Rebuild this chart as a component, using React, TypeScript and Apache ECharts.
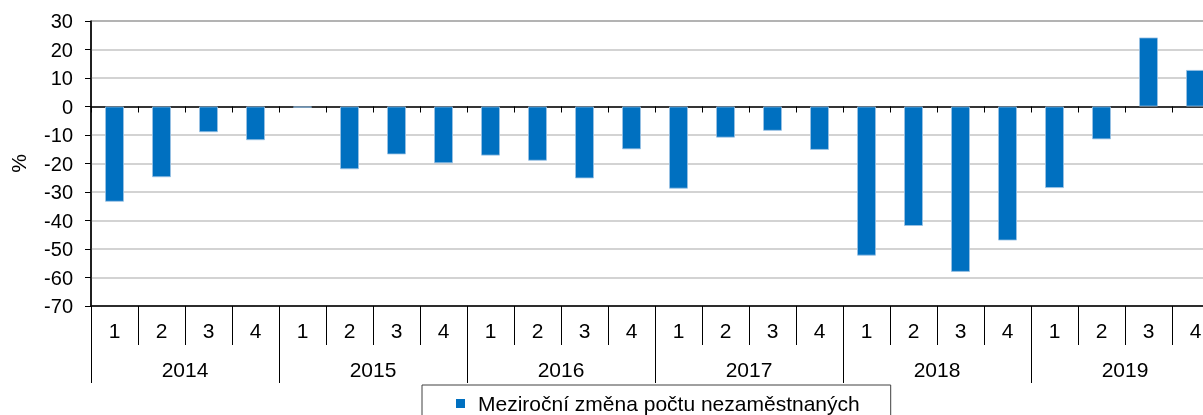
import React, { useEffect, useRef } from "react";
import * as echarts from "echarts";

const quarters = [
  "1", "2", "3", "4", "1", "2", "3", "4", "1", "2", "3", "4",
  "1", "2", "3", "4", "1", "2", "3", "4", "1", "2", "3", "4",
];
const years = ["2014", "2015", "2016", "2017", "2018", "2019"];
const values = [
  -33.4, -24.8, -9.0, -11.8,
  -0.4, -22.0, -16.8, -19.9,
  -17.2, -19.0, -25.2, -15.0,
  -28.8, -10.9, -8.5, -15.2,
  -52.3, -41.9, -58.0, -47.0,
  -28.6, -11.5, 24.2, 12.8,
];
const seriesName = "Meziroční změna počtu nezaměstnaných";
const yTicks = { min: -70, max: 30, interval: 10 };

const FONT = "'Liberation Sans', Arial, Helvetica, sans-serif";

export default function App() {
  const ref = useRef<HTMLDivElement>(null);
  useEffect(() => {
    if (!ref.current) return;
    const chart = echarts.init(ref.current, undefined, { renderer: "svg" });
    chart.setOption({
      animation: false,
      textStyle: { fontFamily: FONT, color: "#000" },
      grid: {
        left: 91,
        top: 21,
        right: 1,
        bottom: 109,
        show: true,
        borderColor: "#000",
        borderWidth: 1,
      },
      legend: {
        data: [seriesName],
        left: 422,
        top: 385,
        padding: [8, 31, 30, 34],
        borderColor: "#404040",
        borderWidth: 1,
        icon: "rect",
        itemWidth: 9,
        itemHeight: 9,
        itemStyle: { borderWidth: 0 },
        textStyle: {
          fontFamily: FONT,
          fontSize: 21,
          color: "#000",
          padding: [0, 0, 0, 8],
        },
      },
      xAxis: [
        {
          type: "category",
          data: quarters,
          position: "bottom",
          axisLine: { show: true, onZero: true, lineStyle: { color: "#000", width: 1.5 } },
          axisTick: { show: true, length: 6, interval: 0, lineStyle: { color: "#000" } },
          axisLabel: { show: false },
          splitLine: { show: false },
        },
        {
          type: "category",
          data: quarters,
          position: "bottom",
          axisLine: { show: true, onZero: false, lineStyle: { color: "#000", width: 1.5 } },
          axisTick: { show: true, length: 39, interval: 0, lineStyle: { color: "#000" } },
          axisLabel: { show: true, interval: 0, margin: 14, fontSize: 21, color: "#000", fontFamily: FONT },
          splitLine: { show: false },
        },
        {
          type: "category",
          data: years,
          position: "bottom",
          axisLine: { show: false, onZero: false },
          axisTick: { show: true, length: 77, interval: 0, lineStyle: { color: "#000" } },
          axisLabel: { show: true, interval: 0, margin: 53, fontSize: 21, color: "#000", fontFamily: FONT },
          splitLine: { show: false },
        },
      ],
      yAxis: {
        type: "value",
        min: yTicks.min,
        max: yTicks.max,
        interval: yTicks.interval,
        name: "%",
        nameLocation: "middle",
        nameRotate: 90,
        nameGap: 62,
        nameTextStyle: { fontSize: 21, color: "#000", fontFamily: FONT },
        axisLine: { show: true, lineStyle: { color: "#000", width: 1.5 } },
        axisTick: { show: true, length: 6, lineStyle: { color: "#000" } },
        axisLabel: { margin: 18, fontSize: 20, color: "#000", fontFamily: FONT },
        splitLine: { show: true, lineStyle: { color: "#c4c4c4", width: 1.5 } },
      },
      series: [
        {
          name: seriesName,
          type: "bar",
          xAxisIndex: 0,
          data: values,
          barCategoryGap: "60%",
          itemStyle: { color: "#0070C0", borderColor: "#9cc3e5", borderWidth: 0.8 },
        },
      ],
    });
    return () => chart.dispose();
  }, []);
  return (
    <div style={{ position: "fixed", left: 0, top: 0, width: 1203, height: 415, overflow: "hidden" }}>
      <div ref={ref} style={{ width: 1220, height: 415 }} />
    </div>
  );
}
